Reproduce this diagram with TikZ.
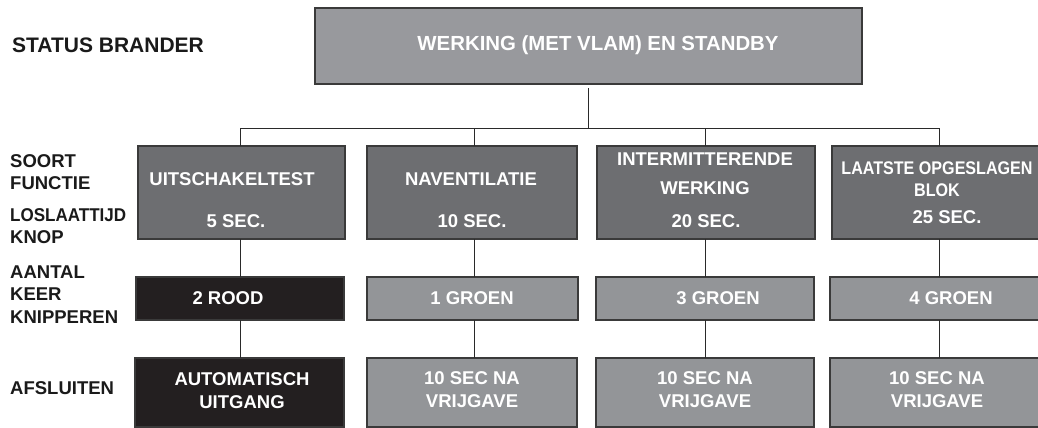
\documentclass[tikz,border=0pt]{standalone}
\usepackage{fontspec}
\setmainfont{Liberation Sans}
\newfontfamily\condfont[FakeStretch=0.88]{Liberation Sans}
\usetikzlibrary{fit}
\definecolor{topgray}{HTML}{98999D}
\definecolor{darkbox}{HTML}{6D6E71}
\definecolor{midbox}{HTML}{939598}
\definecolor{blackbox}{HTML}{231F20}
\definecolor{bordercol}{HTML}{3A3A3A}
\definecolor{linecol}{HTML}{2A2A2A}
\definecolor{labelcol}{HTML}{1A1A1A}
\tikzset{
  box/.style={draw=bordercol, line width=1.3pt, inner sep=0pt, outer sep=0pt},
  boxtxt/.style={text=white, font=\bfseries\fontsize{18.5}{23}\selectfont, align=center, inner sep=0pt},
  toptxt/.style={text=white, font=\bfseries\fontsize{20.4}{24}\selectfont, inner sep=0pt},
  condtxt/.style={text=white, font=\condfont\bfseries\fontsize{18.3}{22}\selectfont, align=center, inner sep=0pt},
  lbl/.style={text=labelcol, font=\bfseries\fontsize{18.5}{22.3}\selectfont, align=left, anchor=west, inner sep=0pt},
  conn/.style={draw=linecol, line width=1pt}
}
\begin{document}
\begin{tikzpicture}[x=1pt,y=-1pt]
\useasboundingbox (0,0) rectangle (1038,428);
\fill[white] (0,0) rectangle (1038,428);
\clip (0,0) rectangle (1038,428);

% top box
\node[box, fill=topgray, fit={(315,8) (862,84)}] (top) {};
\node[toptxt] (ttop) at (598,45) {WERKING (MET VLAM) EN STANDBY};

% row 1
\node[box, fill=darkbox, fit={(138,146) (345,239)}] (r1c1) {};
\node[box, fill=darkbox, fit={(367,146) (577,239)}] (r1c2) {};
\node[box, fill=darkbox, fit={(597,146) (815,239)}] (r1c3) {};
\node[box, fill=darkbox, fit={(832,146) (1050,239)}] (r1c4) {};

% row 2
\node[box, fill=blackbox, fit={(136,277) (344,320)}] (r2c1) {};
\node[box, fill=midbox, fit={(367,277) (578,320)}] (r2c2) {};
\node[box, fill=midbox, fit={(596,277) (814,320)}] (r2c3) {};
\node[box, fill=midbox, fit={(830,277) (1048,320)}] (r2c4) {};

% row 3
\node[box, fill=blackbox, fit={(135,358) (344,427)}] (r3c1) {};
\node[box, fill=midbox, fit={(367,358) (577,427)}] (r3c2) {};
\node[box, fill=midbox, fit={(596,358) (814,427)}] (r3c3) {};
\node[box, fill=midbox, fit={(830,358) (1048,427)}] (r3c4) {};

% texts row 1
\node[boxtxt] (t11) at (232,179) {UITSCHAKELTEST};
\node[boxtxt] (t12) at (236,221) {5 SEC.};
\node[boxtxt] (t21) at (471,179) {NAVENTILATIE};
\node[boxtxt] (t22) at (472,221) {10 SEC.};
\node[boxtxt, font=\bfseries\fontsize{18.5}{29.5}\selectfont] (t31) at (705,173.5) {INTERMITTERENDE\\WERKING};
\node[boxtxt] (t32) at (706,221) {20 SEC.};
\node[condtxt] (t41) at (937,179) {LAATSTE OPGESLAGEN\\BLOK};
\node[boxtxt] (t42) at (947,217) {25 SEC.};

% texts row 2
\node[boxtxt] (u1) at (228,298) {2 ROOD};
\node[boxtxt] (u2) at (472,298) {1 GROEN};
\node[boxtxt] (u3) at (718,298) {3 GROEN};
\node[boxtxt] (u4) at (951,298) {4 GROEN};

% texts row 3
\node[boxtxt] (v1) at (242,390.5) {AUTOMATISCH\\UITGANG};
\node[boxtxt] (v2) at (472,390) {10 SEC NA\\VRIJGAVE};
\node[boxtxt] (v3) at (705,390) {10 SEC NA\\VRIJGAVE};
\node[boxtxt] (v4) at (937,390) {10 SEC NA\\VRIJGAVE};

% left labels
\node[lbl, font=\bfseries\fontsize{21}{24}\selectfont] (lstatus) at (12,45) {STATUS BRANDER};
\node[lbl] (lsoort) at (10,172) {SOORT\\FUNCTIE};
\node[lbl] (llos) at (10,226) {\scalebox{0.92}[1]{LOSLAATTIJD}\\KNOP};
\node[lbl] (laantal) at (10,294.5) {AANTAL\\KEER\\KNIPPEREN};
\node[lbl] (lafs) at (10,388) {AFSLUITEN};

% connectors
\coordinate (j1) at (240,128);
\coordinate (j2) at (474,128);
\coordinate (j3) at (705,128);
\coordinate (j4) at (939,128);
\draw[conn, shorten <=4pt] (top.south) -- (top.south |- j1);
\draw[conn] (j1) -- (j4);
\foreach \c in {1,2,3,4}{
  \draw[conn] (j\c) -- (j\c |- r1c\c.north);
  \draw[conn] (j\c |- r1c\c.south) -- (j\c |- r2c\c.north);
  \draw[conn] (j\c |- r2c\c.south) -- (j\c |- r3c\c.north);
}
\end{tikzpicture}
\end{document}
